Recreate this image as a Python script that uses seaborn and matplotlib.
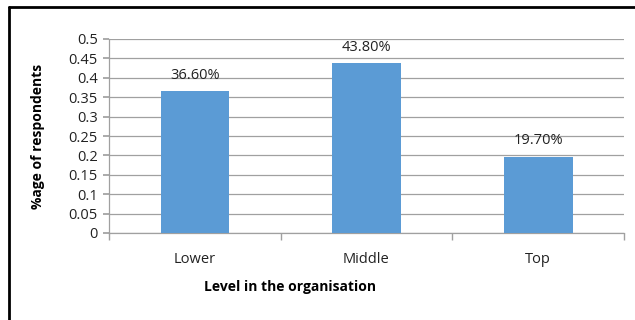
import matplotlib
matplotlib.use("Agg")
import matplotlib.pyplot as plt
import seaborn as sns
import pandas as pd
import numpy as np
from matplotlib.lines import Line2D

levels = ["Lower", "Middle", "Top"]
values = [0.366, 0.438, 0.197]
labels = ["36.60%", "43.80%", "19.70%"]
yticks = [0, 0.05, 0.1, 0.15, 0.2, 0.25, 0.3, 0.35, 0.4, 0.45, 0.5]

sns.set_theme(style="white")
plt.rcParams['font.family'] = ['Open Sans', 'DejaVu Sans']

df = pd.DataFrame({"level": levels, "value": values})

fig = plt.figure(figsize=(6.35, 3.2), dpi=100)
W, H = 635, 320
ax = fig.add_axes([109 / W, 1 - 233 / H, (624 - 109) / W, (233 - 39) / H])

sns.barplot(data=df, x="level", y="value", color="#5B9BD5", saturation=1,
            width=0.4, ax=ax, zorder=3, linewidth=0)

ax.set_ylim(0, 0.5)
ax.set_xlim(-0.5, 2.5)
ax.set_yticks(yticks)
ax.set_yticklabels([f"{t:g}" for t in yticks], fontsize=10.5, color="#222222")
ax.yaxis.grid(True, color="#A0A0A0", linewidth=0.9, zorder=0)
ax.set_axisbelow(True)

for s in ["top", "right"]:
    ax.spines[s].set_visible(False)
for s in ["left", "bottom"]:
    ax.spines[s].set_color("#A0A0A0")
    ax.spines[s].set_linewidth(0.9)

ax.tick_params(axis="y", which="both", left=True, length=4, color="#A0A0A0", pad=4)
ax.tick_params(axis="x", which="major", bottom=False, pad=8, labelsize=10.5, labelcolor="#222222")
ax.set_xticks(range(len(levels)))
ax.set_xticklabels(levels)
ax.set_xticks([-0.5, 0.5, 1.5, 2.5], minor=True)
ax.tick_params(axis="x", which="minor", bottom=True, length=5, color="#A0A0A0")

for i, (v, lab) in enumerate(zip(values, labels)):
    ax.annotate(lab, (i, v), xytext=(0, 11.5), textcoords="offset points",
                ha="center", va="center", fontsize=10.5, color="#222222")

ax.set_xlabel("Level in the organisation", fontsize=10, fontweight="bold", color="black")
ax.set_ylabel("%age of respondents", fontsize=10, fontweight="bold", color="black")
ax.xaxis.set_label_coords((290 - 109) / (624 - 109), -(287 - 233) / (233 - 39))
ax.yaxis.set_label_coords(-(109 - 38) / (624 - 109), 0.5)
ax.xaxis.label.set_va("center")
ax.yaxis.label.set_va("center")

# outer frame (left and top visible)
fig.add_artist(Line2D([9 / W, 9 / W], [0, 1 - 7 / H], transform=fig.transFigure, color="black", linewidth=2))
fig.add_artist(Line2D([9 / W, 1], [1 - 7 / H, 1 - 7 / H], transform=fig.transFigure, color="black", linewidth=2))

fig.savefig("out.png", dpi=100)
